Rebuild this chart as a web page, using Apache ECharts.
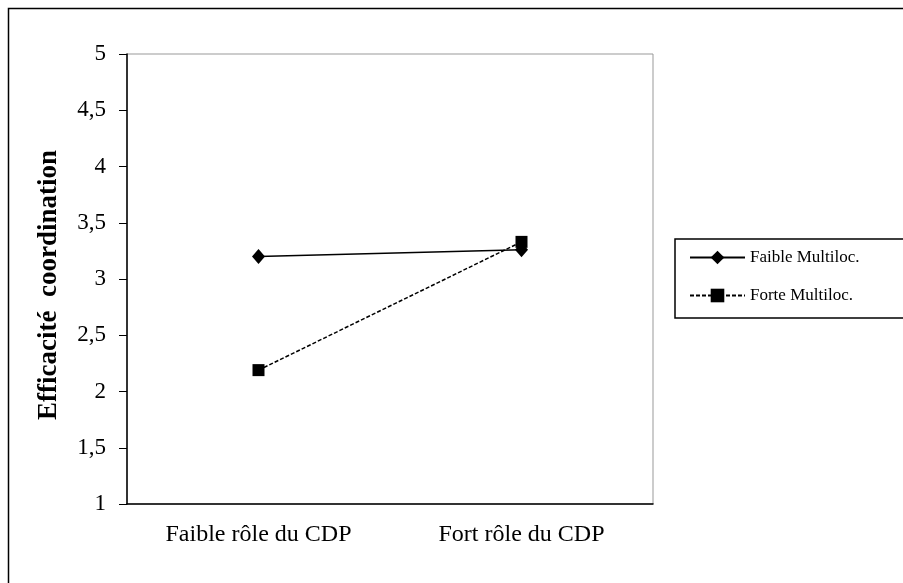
<!DOCTYPE html>
<html>
<head>
<meta charset="utf-8">
<script src="https://cdn.jsdelivr.net/npm/echarts@6/dist/echarts.min.js"></script>
<style>
  html, body { margin: 0; padding: 0; background: #fff; }
  #chart { width: 903px; height: 583px; }
</style>
</head>
<body>
<div id="chart"></div>
<script>
// rôle du CDP x multilocalisation
const categories = ['Faible rôle du CDP', 'Fort rôle du CDP'];
const faibleMultiloc = [3.2, 3.26];
const forteMultiloc = [2.19, 3.33];
const yTicks = [1, 5, 0.5]; // min, max, interval

const serif = '"Liberation Serif", "DejaVu Serif", serif';
const chart = echarts.init(document.getElementById('chart'));

// virgule décimale à la française
const frNum = v => String(v).replace('.', ',');

chart.setOption({
  animation: false,
  backgroundColor: '#fff',
  graphic: [{
    type: 'rect',
    shape: { x: 8.5, y: 8.5, width: 1000, height: 1000 },
    style: { fill: 'none', stroke: '#000', lineWidth: 1.5 },
    silent: true
  }],
  grid: {
    left: 127, top: 54, right: 250, bottom: 79,
    show: true, borderColor: '#999', borderWidth: 1
  },
  legend: {
    orient: 'vertical',
    left: 675, top: 239,
    padding: [10, 80, 14, 14],
    itemWidth: 55, itemHeight: 17, itemGap: 21,
    borderColor: '#000', borderWidth: 1.5,
    textStyle: { fontFamily: serif, fontSize: 17, color: '#000' },
    data: ['Faible Multiloc.', 'Forte Multiloc.']
  },
  xAxis: {
    type: 'category',
    data: categories,
    boundaryGap: true,
    axisLine: { lineStyle: { color: '#000', width: 1.5 } },
    axisTick: { inside: false, length: 8, lineStyle: { color: '#000' } },
    axisLabel: { fontFamily: serif, fontSize: 24, color: '#000', margin: 19 },
    splitLine: { show: false }
  },
  yAxis: {
    type: 'value',
    min: yTicks[0], max: yTicks[1], interval: yTicks[2],
    name: 'Efficacité  coordination',
    nameLocation: 'middle',
    nameGap: 64,
    nameTextStyle: {
      fontFamily: serif, fontSize: 27, fontWeight: 'bold', color: '#000',
      padding: [0, 12, 0, 0]
    },
    axisLine: { show: true, lineStyle: { color: '#000', width: 1.5 } },
    axisTick: { show: true, inside: false, length: 8, lineStyle: { color: '#000' } },
    axisLabel: { fontFamily: serif, fontSize: 23, color: '#000', margin: 21, formatter: frNum },
    splitLine: { show: false }
  },
  series: [
    {
      name: 'Faible Multiloc.',
      type: 'line',
      data: faibleMultiloc,
      symbol: 'diamond',
      symbolSize: [13, 15],
      itemStyle: { color: '#000' },
      lineStyle: { color: '#000', width: 1.5, type: 'solid' }
    },
    {
      name: 'Forte Multiloc.',
      type: 'line',
      data: forteMultiloc,
      symbol: 'rect',
      symbolSize: 12,
      itemStyle: { color: '#000' },
      lineStyle: { color: '#000', width: 1.5, type: [4, 2] }
    }
  ]
});
</script>
</body>
</html>
